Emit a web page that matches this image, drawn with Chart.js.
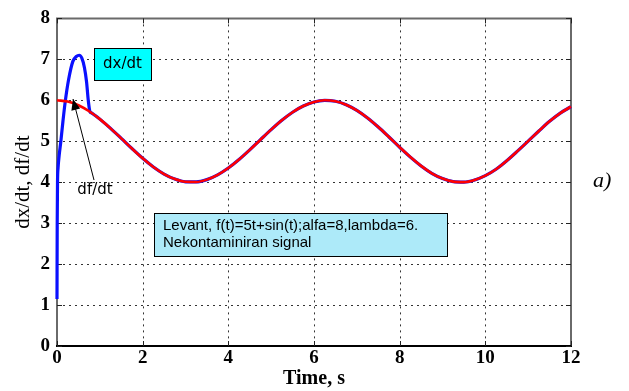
<!DOCTYPE html>
<html>
<head>
<meta charset="utf-8">
<script src="https://cdn.jsdelivr.net/npm/chart.js@4/dist/chart.umd.min.js"></script>
<style>
  html, body { margin: 0; padding: 0; background: #fff; }
  #wrap { width: 629px; height: 391px; position: relative; }
</style>
</head>
<body>
<div id="wrap"><canvas id="chart" width="629" height="391"></canvas></div>
<script>
// Time samples (s) and the derivative of the reference signal f(t)=5t+sin(t)
const timeF = [0, 0.25, 0.5, 0.75, 1, 1.25, 1.5, 1.75, 2, 2.25, 2.5, 2.75, 3, 3.25, 3.5, 3.75,
  4, 4.25, 4.5, 4.75, 5, 5.25, 5.5, 5.75, 6, 6.25, 6.5, 6.75, 7, 7.25, 7.5, 7.75,
  8, 8.25, 8.5, 8.75, 9, 9.25, 9.5, 9.75, 10, 10.25, 10.5, 10.75, 11, 11.25, 11.5, 11.75, 12];
const dfdt = [6.000, 5.969, 5.878, 5.732, 5.540, 5.315, 5.071, 4.822, 4.584, 4.372, 4.199, 4.076,
  4.010, 4.006, 4.063, 4.179, 4.346, 4.554, 4.789, 5.038, 5.284, 5.512, 5.709, 5.861,
  5.960, 6.000, 5.977, 5.893, 5.754, 5.568, 5.347, 5.104, 4.854, 4.613, 4.398, 4.218,
  4.089, 4.014, 4.003, 4.055, 4.161, 4.316, 4.524, 4.759, 5.004, 5.250, 5.487, 5.688, 5.844];

// Differentiator output: fast transient, then tracking of df/dt
const timeX = [0, 0.005, 0.012, 0.025, 0.05, 0.09, 0.14, 0.19, 0.27, 0.37, 0.45, 0.52, 0.58, 0.64,
  0.69, 0.73, 0.77, 0.8, 0.85, 0.9, 1, 1.25, 1.5, 1.75, 2, 2.25, 2.5, 2.75, 3, 3.25, 3.5, 3.75,
  4, 4.25, 4.5, 4.75, 5, 5.25, 5.5, 5.75, 6, 6.25, 6.5, 6.75, 7, 7.25, 7.5, 7.75,
  8, 8.25, 8.5, 8.75, 9, 9.25, 9.5, 9.75, 10, 10.25, 10.5, 10.75, 11, 11.25, 11.5, 11.75, 12];
const dxdt = [1.15, 3.0, 4.0, 4.35, 4.65, 5.0, 5.5, 5.95, 6.5, 6.95, 7.07, 7.1, 7.03, 6.8,
  6.45, 6.0, 5.72, 5.697, 5.660, 5.622, 5.540, 5.315, 5.071, 4.822, 4.584, 4.372, 4.199, 4.076,
  4.010, 4.006, 4.063, 4.179, 4.346, 4.554, 4.789, 5.038, 5.284, 5.512, 5.709, 5.861,
  5.960, 6.000, 5.977, 5.893, 5.754, 5.568, 5.347, 5.104, 4.854, 4.613, 4.398, 4.218,
  4.089, 4.014, 4.003, 4.055, 4.161, 4.316, 4.524, 4.759, 5.004, 5.250, 5.487, 5.688, 5.844];

const xTicks = [0, 2, 4, 6, 8, 10, 12];
const yTicks = [0, 1, 2, 3, 4, 5, 6, 7, 8];

const toPoints = (xs, ys) => xs.map((x, i) => ({ x: x, y: ys[i] }));

// Dotted grid, solid frame and inward tick marks
const framePlugin = {
  id: 'frame',
  beforeDatasetsDraw(chart) {
    const { ctx, chartArea: a, scales } = chart;
    ctx.save();

    ctx.strokeStyle = '#333';
    ctx.lineWidth = 1;
    ctx.setLineDash([2, 4]);
    ctx.beginPath();
    xTicks.slice(1, -1).forEach(v => {
      const px = Math.round(scales.x.getPixelForValue(v)) + 0.5;
      ctx.moveTo(px, a.top); ctx.lineTo(px, a.bottom);
    });
    yTicks.slice(1, -1).forEach(v => {
      const py = Math.round(scales.y.getPixelForValue(v)) + 0.5;
      ctx.moveTo(a.left, py); ctx.lineTo(a.right, py);
    });
    ctx.stroke();
    ctx.setLineDash([]);

    ctx.lineCap = 'square';
    ctx.strokeStyle = '#6a6a6a';
    ctx.lineWidth = 2;
    ctx.beginPath();
    ctx.moveTo(a.left, a.bottom); ctx.lineTo(a.left, a.top);
    ctx.lineTo(a.right, a.top); ctx.lineTo(a.right, a.bottom);
    ctx.stroke();
    ctx.strokeStyle = '#000';
    ctx.beginPath();
    ctx.moveTo(a.left, a.bottom); ctx.lineTo(a.right, a.bottom);
    ctx.stroke();

    ctx.lineCap = 'butt';
    ctx.lineWidth = 1;
    ctx.strokeStyle = '#222';
    const tl = 5;
    ctx.beginPath();
    xTicks.forEach(v => {
      const px = Math.round(scales.x.getPixelForValue(v)) + 0.5;
      ctx.moveTo(px, a.bottom); ctx.lineTo(px, a.bottom - tl);
      ctx.moveTo(px, a.top); ctx.lineTo(px, a.top + tl);
    });
    yTicks.forEach(v => {
      const py = Math.round(scales.y.getPixelForValue(v)) + 0.5;
      ctx.moveTo(a.left, py); ctx.lineTo(a.left + tl, py);
      ctx.moveTo(a.right, py); ctx.lineTo(a.right - tl, py);
    });
    ctx.stroke();
    ctx.restore();
  }
};

// Text boxes, arrow and panel letter
const notesPlugin = {
  id: 'notes',
  afterDatasetsDraw(chart) {
    const { ctx } = chart;
    ctx.save();

    // "dx/dt" tag
    ctx.fillStyle = '#00ffff';
    ctx.fillRect(94, 48, 57, 32);
    ctx.strokeStyle = '#000';
    ctx.lineWidth = 1;
    ctx.strokeRect(94.5, 48.5, 57, 32);
    ctx.fillStyle = '#000';
    ctx.font = '15px "DejaVu Sans"';
    ctx.textAlign = 'center';
    ctx.textBaseline = 'middle';
    ctx.fillText('dx/dt', 122.5, 64.5);

    // "df/dt" label with arrow
    ctx.fillText('df/dt', 95, 190);
    const tipX = 73, tipY = 99, fromX = 94, fromY = 180;
    ctx.beginPath();
    ctx.moveTo(fromX, fromY); ctx.lineTo(tipX, tipY);
    ctx.stroke();
    const ang = Math.atan2(tipY - fromY, tipX - fromX);
    const hl = 11, hw = 4.5;
    ctx.beginPath();
    ctx.moveTo(tipX, tipY);
    ctx.lineTo(tipX - hl * Math.cos(ang) + hw * Math.sin(ang), tipY - hl * Math.sin(ang) - hw * Math.cos(ang));
    ctx.lineTo(tipX - hl * Math.cos(ang) - hw * Math.sin(ang), tipY - hl * Math.sin(ang) + hw * Math.cos(ang));
    ctx.closePath();
    ctx.fill();

    // description box
    ctx.fillStyle = '#adeaf9';
    ctx.fillRect(154, 213, 293, 43);
    ctx.strokeStyle = '#000';
    ctx.strokeRect(154.5, 213.5, 293, 43);
    ctx.fillStyle = '#000';
    ctx.font = '15px "Liberation Sans"';
    ctx.textAlign = 'left';
    ctx.fillText('Levant, f(t)=5t+sin(t);alfa=8,lambda=6.', 163, 225.5);
    ctx.fillText('Nekontaminiran signal', 163, 242.5);

    // panel letter
    ctx.font = 'italic 22px "Liberation Serif"';
    ctx.fillText('a)', 593, 181);
    ctx.restore();
  }
};

new Chart(document.getElementById('chart'), {
  type: 'line',
  data: {
    datasets: [
      {
        label: 'df/dt',
        data: toPoints(timeF, dfdt),
        borderColor: '#ff0000',
        borderWidth: 2.6,
        pointRadius: 0,
        cubicInterpolationMode: 'monotone',
        clip: 4,
        order: 0
      },
      {
        label: 'dx/dt',
        data: toPoints(timeX, dxdt),
        borderColor: '#0a10ff',
        borderWidth: 3.2,
        pointRadius: 0,
        cubicInterpolationMode: 'monotone',
        clip: 4,
        order: 1
      }
    ]
  },
  options: {
    responsive: false,
    animation: false,
    events: [],
    layout: { padding: { top: 13, right: 58, left: 0, bottom: 0 } },
    plugins: { legend: { display: false }, tooltip: { enabled: false } },
    scales: {
      x: {
        type: 'linear',
        min: 0, max: 12,
        afterFit(scale) { scale.height = 45; },
        afterBuildTicks(scale) { scale.ticks = xTicks.map(v => ({ value: v })); },
        ticks: {
          padding: 1,
          color: '#000',
          font: { family: '"Liberation Serif"', size: 19, weight: 'bold' },
          maxRotation: 0
        },
        grid: { display: false, drawTicks: false },
        border: { display: false },
        title: {
          display: true,
          text: 'Time, s',
          color: '#000',
          font: { family: '"Liberation Serif"', size: 20, weight: 'bold' },
          padding: { top: 0, bottom: 0 }
        }
      },
      y: {
        type: 'linear',
        min: 0, max: 8,
        afterFit(scale) { scale.width = 57; },
        afterBuildTicks(scale) { scale.ticks = yTicks.map(v => ({ value: v })); },
        ticks: {
          padding: 7,
          color: '#000',
          font: { family: '"Liberation Serif"', size: 19, weight: 'bold' }
        },
        grid: { display: false, drawTicks: false },
        border: { display: false },
        title: {
          display: true,
          text: 'dx/dt, df/dt',
          color: '#000',
          font: { family: '"Liberation Serif"', size: 21, weight: 'normal' },
          padding: { top: 11, bottom: 0 }
        }
      }
    }
  },
  plugins: [framePlugin, notesPlugin]
});
</script>
</body>
</html>
